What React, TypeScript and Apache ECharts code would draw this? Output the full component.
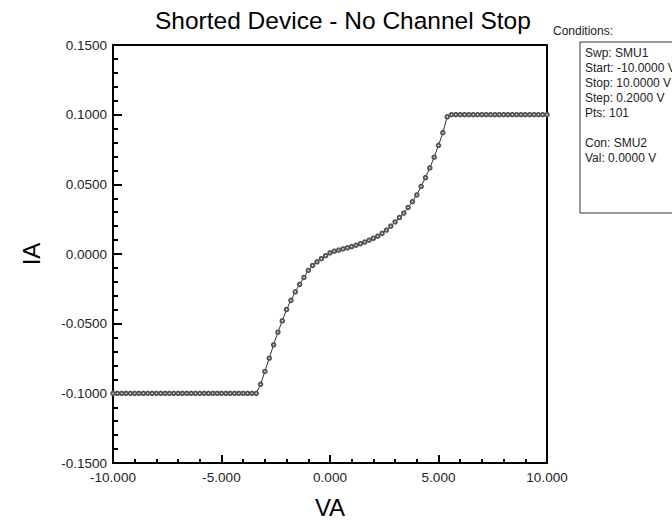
import React, { useEffect, useRef } from "react";
import * as echarts from "echarts";

const voltages = [
  -10.0, -9.8, -9.6, -9.4, -9.2, -9.0, -8.8, -8.6, -8.4, -8.2,
  -8.0, -7.8, -7.6, -7.4, -7.2, -7.0, -6.8, -6.6, -6.4, -6.2,
  -6.0, -5.8, -5.6, -5.4, -5.2, -5.0, -4.8, -4.6, -4.4, -4.2,
  -4.0, -3.8, -3.6, -3.4, -3.2, -3.0, -2.8, -2.6, -2.4, -2.2,
  -2.0, -1.8, -1.6, -1.4, -1.2, -1.0, -0.8, -0.6, -0.4, -0.2,
  0.0, 0.2, 0.4, 0.6, 0.8, 1.0, 1.2, 1.4, 1.6, 1.8,
  2.0, 2.2, 2.4, 2.6, 2.8, 3.0, 3.2, 3.4, 3.6, 3.8,
  4.0, 4.2, 4.4, 4.6, 4.8, 5.0, 5.2, 5.4, 5.6, 5.8,
  6.0, 6.2, 6.4, 6.6, 6.8, 7.0, 7.2, 7.4, 7.6, 7.8,
  8.0, 8.2, 8.4, 8.6, 8.8, 9.0, 9.2, 9.4, 9.6, 9.8,
  10.0,
];

const currents = [
  -0.1, -0.1, -0.1, -0.1, -0.1, -0.1, -0.1, -0.1, -0.1, -0.1,
  -0.1, -0.1, -0.1, -0.1, -0.1, -0.1, -0.1, -0.1, -0.1, -0.1,
  -0.1, -0.1, -0.1, -0.1, -0.1, -0.1, -0.1, -0.1, -0.1, -0.1,
  -0.1, -0.1, -0.1, -0.1, -0.0935, -0.0843, -0.0748, -0.0652, -0.0561, -0.048,
  -0.0398, -0.0333, -0.0271, -0.0218, -0.0168, -0.0118, -0.0082, -0.0056, -0.0034, -0.0012,
  0.0008, 0.002, 0.0028, 0.0036, 0.0044, 0.0053, 0.0063, 0.0074, 0.0086, 0.0099,
  0.0113, 0.0128, 0.0148, 0.0172, 0.02, 0.023, 0.0262, 0.0294, 0.0334, 0.0376,
  0.0424, 0.0485, 0.0548, 0.0618, 0.0695, 0.078, 0.0871, 0.0985, 0.1, 0.1,
  0.1, 0.1, 0.1, 0.1, 0.1, 0.1, 0.1, 0.1, 0.1, 0.1,
  0.1, 0.1, 0.1, 0.1, 0.1, 0.1, 0.1, 0.1, 0.1, 0.1,
  0.1,
];

const titleText = "Shorted Device - No Channel Stop";
const xAxisName = "VA";
const yAxisName = "IA";
const conditionsTitle = "Conditions:";
const conditionLines = [
  "Swp: SMU1",
  "Start: -10.0000 V",
  "Stop: 10.0000 V",
  "Step: 0.2000 V",
  "Pts: 101",
  "",
  "Con: SMU2",
  "Val: 0.0000 V",
];

const FONT = '"Liberation Sans", Arial, sans-serif';

export default function App() {
  const ref = useRef<HTMLDivElement>(null);

  useEffect(() => {
    document.body.style.margin = "0";
    const chart = echarts.init(ref.current as HTMLDivElement, null, { renderer: "svg" });

    const lineTexts = conditionLines.map((t, i) => ({
      type: "text",
      x: 585,
      y: 53 + 15 * i,
      style: {
        text: t,
        fontSize: 12,
        fontFamily: FONT,
        fill: "#222",
        textVerticalAlign: "middle",
      },
    }));

    chart.setOption({
      animation: false,
      backgroundColor: "#fff",
      title: {
        text: titleText,
        left: 155,
        top: 8,
        padding: 0,
        textStyle: { fontSize: 24.5, fontWeight: "normal", color: "#000", fontFamily: FONT },
      },
      grid: {
        left: 113,
        right: 125,
        top: 45,
        bottom: 55,
        show: true,
        borderColor: "#000",
        borderWidth: 2,
        backgroundColor: "transparent",
      },
      xAxis: {
        type: "value",
        min: -10,
        max: 10,
        interval: 5,
        name: xAxisName,
        nameLocation: "middle",
        nameGap: 32,
        nameTextStyle: { fontSize: 24, color: "#000", fontFamily: FONT },
        axisLine: { onZero: false, lineStyle: { color: "#000", width: 2 } },
        axisTick: { inside: true, length: 8, lineStyle: { color: "#000", width: 2 } },
        minorTick: { show: true, splitNumber: 5, length: 4, lineStyle: { color: "#000", width: 2 } },
        splitLine: { show: false },
        minorSplitLine: { show: false },
        axisLabel: {
          formatter: (v: number) => v.toFixed(3),
          fontSize: 13.5,
          color: "#222",
          margin: 7,
          fontFamily: FONT,
        },
      },
      yAxis: {
        type: "value",
        min: -0.15,
        max: 0.15,
        interval: 0.05,
        name: yAxisName,
        nameLocation: "middle",
        nameGap: 70,
        nameTextStyle: { fontSize: 24, color: "#000", fontFamily: FONT },
        axisLine: { onZero: false, lineStyle: { color: "#000", width: 2 } },
        axisTick: { inside: true, length: 9, lineStyle: { color: "#000", width: 2 } },
        minorTick: { show: true, splitNumber: 5, length: 5, lineStyle: { color: "#000", width: 2 } },
        splitLine: { show: false },
        minorSplitLine: { show: false },
        axisLabel: {
          formatter: (v: number) => v.toFixed(4),
          fontSize: 13.5,
          color: "#222",
          margin: 6,
          fontFamily: FONT,
        },
      },
      graphic: [
        {
          type: "text",
          x: 553,
          y: 31,
          style: {
            text: conditionsTitle,
            fontSize: 12,
            fontFamily: FONT,
            fill: "#222",
            textVerticalAlign: "middle",
          },
        },
        {
          type: "rect",
          shape: { x: 580, y: 42, width: 120, height: 171 },
          style: { fill: "#fff", stroke: "#333", lineWidth: 1 },
        },
        ...lineTexts,
      ],
      series: [
        {
          type: "line",
          data: voltages.map((v, i) => [v, currents[i]]),
          symbol: "emptyCircle",
          symbolSize: 3.5,
          lineStyle: { color: "#333", width: 1 },
          itemStyle: { color: "#555", borderWidth: 0.8 },
        },
      ],
    });

    return () => chart.dispose();
  }, []);

  return <div ref={ref} style={{ width: 672, height: 524 }} />;
}
